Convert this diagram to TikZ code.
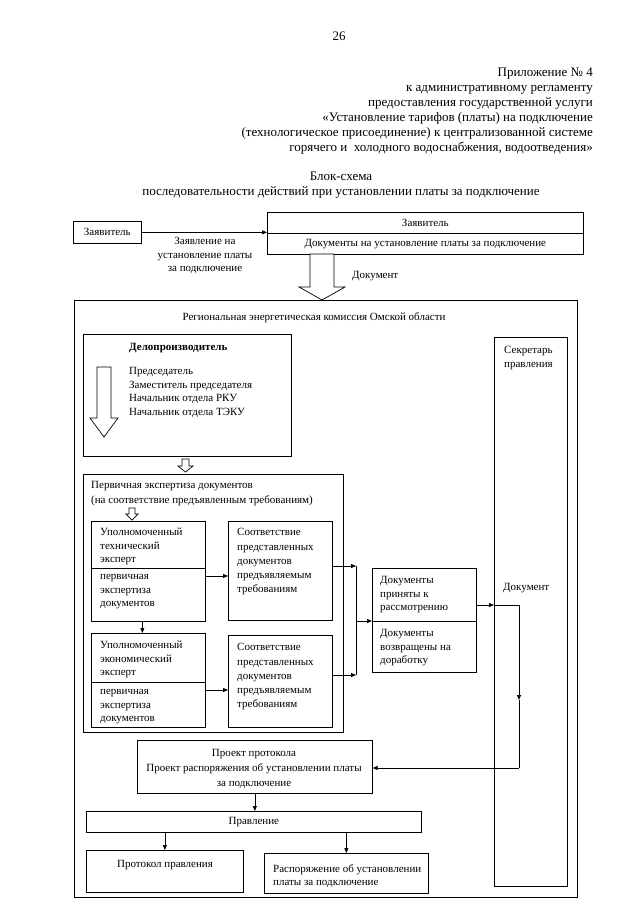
\documentclass[tikz,border=0pt]{standalone}
\usepackage{fontspec}
\setmainfont{Liberation Serif}
\usetikzlibrary{arrows.meta,calc}
\newcommand\dgf{\fontsize{11}{13.5}\selectfont}
\newcommand\cff{\fontsize{11}{14.3}\selectfont}
\newcommand\pff{\fontsize{11}{15}\selectfont}
\newcommand\hdf{\fontsize{13}{15}\selectfont}
\newcommand\myst{\rule{0pt}{7.5pt}}
\begin{document}
\begin{tikzpicture}[x=1pt,y=-1pt,
  bx/.style={draw, line width=0.7pt, inner sep=0pt, anchor=north west, font=\dgf},
  tx/.style={inner sep=0pt, anchor=north west, align=left, font=\dgf},
  hd/.style={inner sep=0pt, anchor=base east, font=\hdf},
  ar/.style={line width=0.7pt, -{Triangle[length=5pt,width=4pt]}},
  ln/.style={line width=0.7pt},
  blk/.style={draw, line width=0.7pt, fill=white, line join=miter}]
\fill[white] (0,0) rectangle (640,905);
\useasboundingbox (0,0) rectangle (640,905);
% header
\node[inner sep=0pt, anchor=base, font=\hdf] (pg) at (339,40) {26};
\node[hd] (h1) at (593,76) {Приложение №~4};
\node[hd] (h2) at (593,91) {к административному регламенту};
\node[hd] (h3) at (593,106) {предоставления государственной услуги};
\node[hd] (h4) at (593,121) {«Установление тарифов (платы) на подключение};
\node[hd] (h5) at (593,136) {(технологическое присоединение) к централизованной системе};
\node[hd] (h6) at (593,151) {горячего и \ холодного водоснабжения, водоотведения»};
\node[inner sep=0pt, anchor=base, font=\hdf] (t1) at (341,180) {Блок-схема};
\node[inner sep=0pt, anchor=base, font=\hdf] (t2) at (341,195) {последовательности действий при установлении платы за подключение};
% applicant
\node[bx, minimum width=68pt, minimum height=22pt] (zs) at (73,221) {Заявитель};
\node[bx, minimum width=316pt, minimum height=21pt] (zt) at (267,212) {Заявитель};
\node[bx, minimum width=316pt, minimum height=21pt] (zb) at (267,233) {Документы на установление платы за подключение};
\draw[ar] (zs.east) -- (zs.east -| zt.west);
\node[inner sep=0pt, anchor=north, align=center, font=\dgf] (lab) at (205,237) {\myst Заявление на\\установление платы\\за подключение};
\draw[blk] (310,254) -- (334,254) -- (334,287) -- (345,287) -- (322,300) -- (299,287) -- (310,287) -- cycle;
\node[inner sep=0pt, anchor=west, font=\dgf] (doc1) at (352,276) {Документ};
% commission
\node[bx, minimum width=503pt, minimum height=597pt] (rek) at (74,300) {};
\node[inner sep=0pt, font=\dgf] (rekt) at (314,318) {Региональная энергетическая комиссия Омской области};
\node[bx, minimum width=208pt, minimum height=122pt] (dp) at (83,334) {};
\node[tx] (dpt) at (129,343) {\myst\textbf{Делопроизводитель}};
\node[tx] (dpl) at (129,367) {\myst Председатель\\Заместитель председателя\\Начальник отдела РКУ\\Начальник отдела ТЭКУ};
\draw[blk] (97,367) -- (111,367) -- (111,418) -- (118,418) -- (104,437) -- (90,418) -- (97,418) -- cycle;
\node[bx, minimum width=73pt, minimum height=549pt] (sec) at (494,337) {};
\node[tx] (sect) at (504,346) {\myst Секретарь\\правления};
\draw[blk] (182,459) -- (189,459) -- (189,466) -- (193,466) -- (185.5,472) -- (178,466) -- (182,466) -- cycle;
% primary expertise
\node[bx, minimum width=260pt, minimum height=258pt] (prim) at (83,474) {};
\node[tx, font=\pff] (primt) at (91,481) {\myst Первичная экспертиза документов\\(на соответствие предъявленным требованиям)};
\draw[blk] (129,508) -- (135,508) -- (135,514) -- (138,514) -- (132,520) -- (126,514) -- (129,514) -- cycle;
\node[bx, minimum width=114pt, minimum height=47pt] (tt) at (91,521) {};
\node[tx] (ttt) at (100,528) {\myst Уполномоченный\\технический\\эксперт};
\node[bx, minimum width=114pt, minimum height=53pt] (tb) at (91,568) {};
\node[tx] (tbt) at (100,572) {\myst первичная\\экспертиза\\документов};
\node[bx, minimum width=104pt, minimum height=99pt] (c1) at (228,521) {};
\node[tx, font=\cff] (c1t) at (237,528) {\myst Соответствие\\представленных\\документов\\предъявляемым\\требованиям};
\node[bx, minimum width=114pt, minimum height=49pt] (et) at (91,633) {};
\node[tx] (ett) at (100,641) {\myst Уполномоченный\\экономический\\эксперт};
\node[bx, minimum width=114pt, minimum height=45pt] (eb) at (91,682) {};
\node[tx] (ebt) at (100,687) {\myst первичная\\экспертиза\\документов};
\node[bx, minimum width=104pt, minimum height=92pt] (c2) at (228,635) {};
\node[tx, font=\cff] (c2t) at (237,643) {\myst Соответствие\\представленных\\документов\\предъявляемым\\требованиям};
\draw[ar] ([yshift=-8pt]tb.north east) -- ([yshift=-8pt]tb.north east -| c1.west);
\draw[ar] ([yshift=-8pt]eb.north east) -- ([yshift=-8pt]eb.north east -| c2.west);
\draw[ar] ([xshift=-6pt]tb.south) -- ([xshift=-6pt]tb.south |- et.north);
% documents accepted / returned
\coordinate (bt) at (356,566);
\coordinate (bb) at (356,675);
\coordinate (bm) at (356,621);
\node[bx, minimum width=104pt, minimum height=53pt] (dt) at (372,568) {};
\node[tx] (dtt) at (380,576) {\myst Документы\\приняты к\\рассмотрению};
\node[bx, minimum width=104pt, minimum height=51pt] (db) at (372,621) {};
\node[tx] (dbt) at (380,629) {\myst Документы\\возвращены на\\доработку};
\draw[ar] (c1.east |- bt) -- (bt);
\draw[ar] (c2.east |- bb) -- (bb);
\draw[ln] (bt) -- (bb);
\draw[ar] (bm) -- (bm -| dt.west);
% to secretary and back
\coordinate (dsY) at (0,605);
\coordinate (k1) at (519,605);
\coordinate (k2) at (519,700);
\coordinate (k3) at (519,768);
\node[inner sep=0pt, anchor=west, font=\dgf] (doc2) at (503,588) {Документ};
\node[bx, minimum width=235pt, minimum height=53pt] (pr) at (137,740) {};
\node[inner sep=0pt, anchor=north, align=center, font=\pff] (prt) at (254,749) {\myst Проект протокола\\Проект распоряжения об установлении платы\\за подключение};
\draw[ar] (dt.east |- dsY) -- (sec.west |- dsY);
\draw[ln] (sec.west |- dsY) -- (k1);
\draw[ar] (k1) -- (k2);
\draw[ln] (k2) -- (k3);
\draw[ar] (k3) -- (k3 -| pr.east);
% board
\node[bx, minimum width=335pt, minimum height=21pt] (pv) at (86,811) {Правление};
\draw[ar] (pr.south) -- (pr.south |- pv.north);
\node[bx, minimum width=157pt, minimum height=42pt] (pp) at (86,850) {};
\node[inner sep=0pt, font=\dgf] (ppt) at (165,865) {Протокол правления};
\node[bx, minimum width=164pt, minimum height=40pt] (rs) at (264,853) {};
\node[tx] (rst) at (273,864) {\myst Распоряжение об установлении\\платы за подключение};
\draw[ar] (pp.north |- pv.south) -- (pp.north);
\draw[ar] (rs.north |- pv.south) -- (rs.north);
\end{tikzpicture}
\end{document}
